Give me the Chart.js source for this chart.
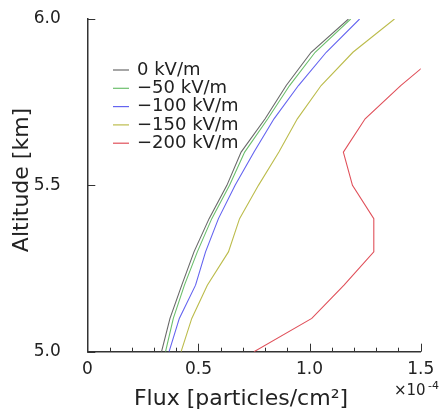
<!DOCTYPE html>
<html>
<head>
<meta charset="utf-8">
<script src="https://cdn.jsdelivr.net/npm/chart.js@4"></script>
<style>
  html, body { margin: 0; padding: 0; background: #fff; }
  canvas { display: block; }
</style>
</head>
<body>
<canvas id="fluxChart" width="442" height="413"></canvas>
<script>
// altitude levels (km)
const altitudes = [5.0, 5.1, 5.2, 5.3, 5.4, 5.5, 5.6, 5.7, 5.8, 5.9, 6.0];

// flux in units of 1e-4 particles/cm2, one array per field strength
const flux0 = [0.334, 0.372, 0.425, 0.48, 0.548, 0.628, 0.692, 0.80, 0.895, 1.007, 1.175];
const flux50 = [0.352, 0.387, 0.437, 0.495, 0.56, 0.64, 0.708, 0.812, 0.91, 1.025, 1.185];
const flux100 = [0.368, 0.414, 0.487, 0.532, 0.59, 0.665, 0.75, 0.84, 0.95, 1.075, 1.225];
const flux150 = [0.422, 0.47, 0.54, 0.635, 0.685, 0.77, 0.862, 0.945, 1.052, 1.195, 1.382];
const flux200 = [0.75, 1.01, 1.155, 1.289, 1.289, 1.193, 1.152, 1.25, 1.41, 1.59, null];

const seriesLabels = ['0 kV/m', '\u221250 kV/m', '\u2212100 kV/m', '\u2212150 kV/m', '\u2212200 kV/m'];
const seriesColors = ['#6a6a6a', '#6cbf6c', '#6464f0', '#bcbc4c', '#e0505a'];
const seriesData = [flux0, flux50, flux100, flux150, flux200];

const xTicks = [0, 0.5, 1.0, 1.5];
const yTicks = [5.0, 5.5, 6.0];

const FONT = 'DejaVu Sans';

// build {x,y} points from the arrays
function toPoints(values) {
  const pts = [];
  values.forEach((v, i) => {
    if (v !== null) pts.push({ x: v, y: altitudes[i] });
  });
  return pts;
}

const datasets = seriesData.map((values, i) => ({
  label: seriesLabels[i],
  data: toPoints(values),
  borderColor: seriesColors[i],
  backgroundColor: seriesColors[i],
  borderWidth: 1.1,
  pointRadius: 0,
  showLine: true,
  tension: 0
}));

// inward ticks, legend, axis titles
const extrasPlugin = {
  id: 'extras',
  afterDraw(chart) {
    const ctx = chart.ctx;
    const xs = chart.scales.x;
    const ys = chart.scales.y;
    const area = chart.chartArea;
    ctx.save();

    // x ticks every 0.1, longer at 0.5
    ctx.strokeStyle = '#333';
    ctx.lineWidth = 1;
    for (let k = 1; k <= 15; k++) {
      const px = Math.round(xs.getPixelForValue(k / 10)) + 0.5;
      const len = k % 5 === 0 ? 8 : 4;
      ctx.beginPath();
      ctx.moveTo(px, area.bottom);
      ctx.lineTo(px, area.bottom - len);
      ctx.stroke();
    }
    // y ticks
    yTicks.forEach(v => {
      const py = Math.round(ys.getPixelForValue(v)) + 0.5;
      ctx.beginPath();
      ctx.moveTo(area.left, py);
      ctx.lineTo(area.left + 8, py);
      ctx.stroke();
    });

    // legend
    ctx.font = '18px "' + FONT + '"';
    ctx.textBaseline = 'middle';
    ctx.textAlign = 'left';
    chart.data.datasets.forEach((ds, i) => {
      const y = 70 + i * 18.3;
      ctx.strokeStyle = ds.borderColor;
      ctx.lineWidth = 1.2;
      ctx.beginPath();
      ctx.moveTo(113, y);
      ctx.lineTo(129, y);
      ctx.stroke();
      ctx.fillStyle = '#222';
      ctx.fillText(ds.label, 137, y);
    });

    // axis titles
    ctx.fillStyle = '#222';
    ctx.font = '22px "' + FONT + '"';
    ctx.textAlign = 'center';
    ctx.fillText('Flux [particles/cm\u00b2]', 241, 399);
    ctx.save();
    ctx.translate(22, 180);
    ctx.rotate(-Math.PI / 2);
    ctx.fillText('Altitude [km]', 0, 0);
    ctx.restore();

    // exponent
    ctx.font = '15px "' + FONT + '"';
    ctx.textAlign = 'left';
    ctx.fillText('\u00d710', 394, 391);
    ctx.font = '11px "' + FONT + '"';
    ctx.fillText('-4', 428, 386);

    ctx.restore();
  }
};

new Chart(document.getElementById('fluxChart'), {
  type: 'scatter',
  data: { datasets },
  options: {
    responsive: false,
    animation: false,
    layout: { padding: { left: 0, right: 21.3, top: 19, bottom: 0 } },
    plugins: {
      legend: { display: false },
      tooltip: { enabled: false }
    },
    scales: {
      x: {
        type: 'linear',
        min: 0,
        max: 1.5,
        afterFit(scale) {
          scale.height = 61.3;
          scale.paddingLeft = 0;
          scale.paddingRight = 0;
        },
        afterBuildTicks(scale) { scale.ticks = xTicks.map(v => ({ value: v })); },
        grid: { display: false },
        border: { display: true, color: '#333', width: 1.5 },
        ticks: {
          padding: 0,
          color: '#222',
          font: { family: FONT, size: 17 },
          callback: v => (v === 0 ? '0' : v.toFixed(1))
        }
      },
      y: {
        type: 'linear',
        min: 5,
        max: 6,
        afterFit(scale) {
          scale.width = 87.3;
          scale.paddingTop = 0;
          scale.paddingBottom = 0;
        },
        afterBuildTicks(scale) { scale.ticks = yTicks.map(v => ({ value: v })); },
        grid: { display: false },
        border: { display: true, color: '#333', width: 1.5 },
        ticks: {
          padding: 18.5,
          color: '#222',
          font: { family: FONT, size: 17 },
          callback: v => v.toFixed(1)
        }
      }
    }
  },
  plugins: [extrasPlugin]
});
</script>
</body>
</html>
